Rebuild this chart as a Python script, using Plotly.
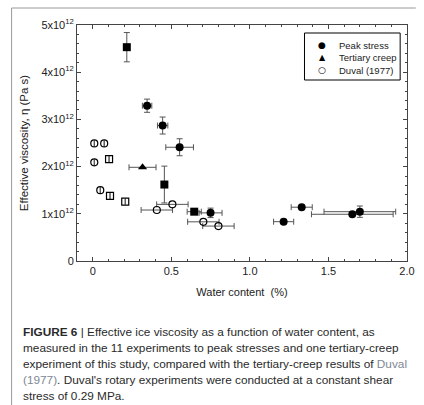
import plotly.graph_objects as go

# Peak-stress experiments (this study); viscosity in units of 10^12 Pa s
peak_w = [0.346, 0.445, 0.553, 0.75, 1.215, 1.33, 1.652, 1.70, 0.217, 0.456, 0.646]
peak_eta = [3.29, 2.87, 2.41, 1.02, 0.833, 1.14, 0.99, 1.045, 4.53, 1.62, 1.045]
peak_w_err = [0.03, 0.033, 0.088, 0.073, 0.064, 0.067, 0.26, 0.228, 0.0, 0.0, 0.045]
peak_eta_err = [0.14, 0.18, 0.18, 0.1, 0.0, 0.0, 0.0, 0.12, 0.31, 0.39, 0.0]
peak_symbol = ["circle", "circle", "circle", "circle", "circle", "circle",
               "circle", "circle", "square", "square", "square"]

# Tertiary-creep experiment (this study)
tert_w = [0.317]
tert_eta = [1.985]
tert_w_err = [0.086]

# Duval (1977) rotary experiments
duval_w = [0.01, 0.073, 0.01, 0.104, 0.048, 0.11, 0.207, 0.408, 0.507, 0.704, 0.80]
duval_eta = [2.49, 2.49, 2.09, 2.16, 1.50, 1.38, 1.26, 1.08, 1.20, 0.83, 0.74]
duval_w_err = [0, 0, 0, 0, 0, 0, 0, 0.1, 0.1, 0.1, 0.1]
duval_symbol = ["circle-open", "circle-open", "circle-open", "square-open", "circle-open",
                "square-open", "square-open", "circle-open", "circle-open",
                "circle-open", "circle-open"]

x_ticks = [0, 0.5, 1.0, 1.5, 2.0]
x_tick_text = ["0", "0.5", "1.0", "1.5", "2.0"]
y_ticks = [0, 1, 2, 3, 4, 5]
y_tick_text = ["0", "1x10<sup>12</sup>", "2x10<sup>12</sup>", "3x10<sup>12</sup>",
               "4x10<sup>12</sup>", "5x10<sup>12</sup>"]

legend_labels = ["Peak stress", "Tertiary creep", "Duval (1977)"]
legend_glyphs = ["●", "▲", "○"]

caption_lines = [
    "<b>FIGURE 6</b> | Effective ice viscosity as a function of water content, as",
    "measured in the 11 experiments to peak stresses and one tertiary-creep",
    "experiment of this study, compared with the tertiary-creep results of "
    "<span style='color:#7d8893'>Duval</span>",
    "<span style='color:#7d8893'>(1977)</span>. Duval's rotary experiments were "
    "conducted at a constant shear",
    "stress of 0.29 MPa.",
]

W, H = 424, 405
L, R, T, B = 77, 415, 25, 261
FONT = "Liberation Sans, Arial, sans-serif"
ERR_COLOR = "#555555"
TXT = "#222222"


def px(x):
    return (x - L) / (R - L)


def py(y):
    return (B - y) / (B - T)


fig = go.Figure()

fig.add_trace(go.Scatter(
    x=duval_w, y=duval_eta, mode="markers", name="Duval (1977)", showlegend=False,
    marker=dict(symbol=duval_symbol, size=7, color="black", line=dict(width=1.2)),
    error_x=dict(type="data", array=duval_w_err, color=ERR_COLOR, thickness=1, width=3),
))
fig.add_trace(go.Scatter(
    x=tert_w, y=tert_eta, mode="markers", name="Tertiary creep", showlegend=False,
    marker=dict(symbol="triangle-up", size=8, color="black"),
    error_x=dict(type="data", array=tert_w_err, color=ERR_COLOR, thickness=1, width=3),
))
fig.add_trace(go.Scatter(
    x=peak_w, y=peak_eta, mode="markers", name="Peak stress", showlegend=False,
    marker=dict(symbol=peak_symbol, size=8, color="black"),
    error_x=dict(type="data", array=peak_w_err, color=ERR_COLOR, thickness=1, width=3),
    error_y=dict(type="data", array=peak_eta_err, color=ERR_COLOR, thickness=1, width=3),
))

axis_common = dict(
    showline=True, linecolor="#444444", linewidth=1, mirror="ticks",
    ticks="inside", ticklen=4, tickcolor="#444444", showgrid=False, zeroline=False,
    tickfont=dict(family=FONT, size=11, color=TXT),
)
fig.update_xaxes(
    range=[-0.1, 2.0], tickvals=x_ticks, ticktext=x_tick_text,
    minor=dict(ticks="inside", dtick=0.1, ticklen=2, tickcolor="#444444"),
    title=dict(text="Water content  (%)", font=dict(family=FONT, size=11, color=TXT),
               standoff=12),
    **axis_common,
)
fig.update_yaxes(
    range=[0, 5], tickvals=y_ticks, ticktext=y_tick_text,
    minor=dict(ticks="inside", dtick=0.2, ticklen=2, tickcolor="#444444"),
    title=dict(text="Effective viscosity, η (Pa s)",
               font=dict(family=FONT, size=11.5, color=TXT), standoff=10),
    **axis_common,
)

fig.update_layout(
    width=W, height=H,
    margin=dict(l=L, r=W - R, t=T, b=H - B, pad=0),
    paper_bgcolor="white", plot_bgcolor="white",
    font=dict(family=FONT, color=TXT),
    showlegend=False,
)

# Legend box with symbol and label rows
fig.add_shape(type="rect", xref="paper", yref="paper",
              x0=px(310), x1=px(408), y0=py(33), y1=py(80),
              line=dict(color="black", width=1), fillcolor="white")
for i, (glyph, label) in enumerate(zip(legend_glyphs, legend_labels)):
    yc = py(45 + 12.5 * i)
    fig.add_annotation(text=glyph, xref="paper", yref="paper", x=px(328), y=yc,
                       xanchor="center", yanchor="middle", showarrow=False,
                       font=dict(family="DejaVu Sans", size=8 if i == 1 else 9,
                                 color="black"))
    fig.add_annotation(text=label, xref="paper", yref="paper", x=px(343), y=yc,
                       xanchor="left", yanchor="middle", showarrow=False,
                       font=dict(family=FONT, size=9.5, color=TXT))

# Page frame lines
fig.add_shape(type="line", xref="paper", yref="paper",
              x0=px(10), x1=px(424), y0=py(8), y1=py(8),
              line=dict(color="#9a9a9a", width=1))
fig.add_shape(type="line", xref="paper", yref="paper",
              x0=px(10), x1=px(10), y0=py(8), y1=py(405),
              line=dict(color="#9a9a9a", width=1))

# Caption
for i, line in enumerate(caption_lines):
    fig.add_annotation(
        text=line, xref="paper", yref="paper",
        x=px(20), y=py(332 + 16 * i), xanchor="left", yanchor="middle",
        showarrow=False, align="left",
        font=dict(family=FONT, size=11.8, color="#2a2a2a"),
    )

fig.write_html("out.html")
